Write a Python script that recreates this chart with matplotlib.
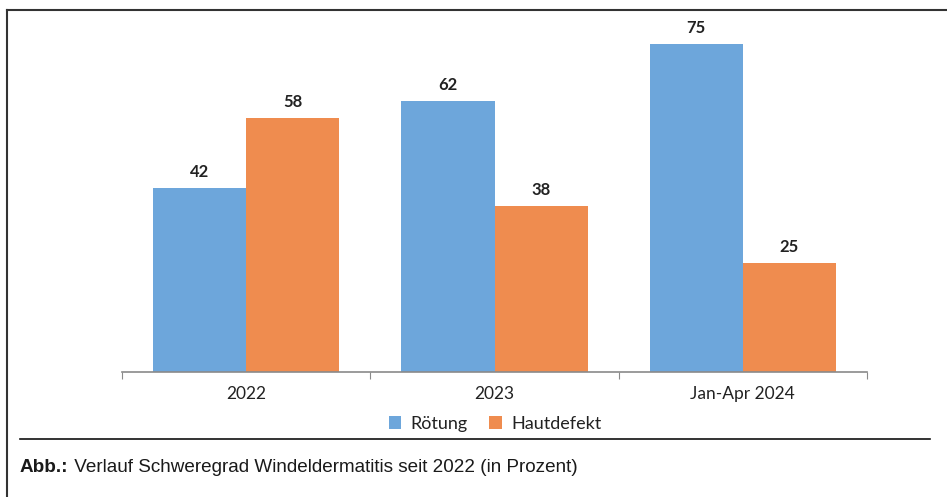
import matplotlib.pyplot as plt
from matplotlib.lines import Line2D
import numpy as np

categories = ["2022", "2023", "Jan-Apr 2024"]
roetung = [42, 62, 75]
hautdefekt = [58, 38, 25]
series_names = ["Rötung", "Hautdefekt"]
caption_bold = "Abb.:"
caption_text = " Verlauf Schweregrad Windeldermatitis seit 2022 (in Prozent)"

blue = "#6DA6DB"
orange = "#EF8C4F"
font = ["Lato", "DejaVu Sans"]
cap_font = ["Liberation Sans", "DejaVu Sans"]

fig = plt.figure(figsize=(9.47, 4.97), dpi=100)
ax = fig.add_axes([122 / 947, 125 / 497, 745 / 947, 350 / 497])

x = np.arange(len(categories))
w = 0.375
b1 = ax.bar(x - w / 2, roetung, w, color=blue, label=series_names[0])
b2 = ax.bar(x + w / 2, hautdefekt, w, color=orange, label=series_names[1])

for bars, vals in [(b1, roetung), (b2, hautdefekt)]:
    for rect, v in zip(bars, vals):
        ax.text(rect.get_x() + rect.get_width() / 2, v + 1.8, str(v),
                ha="center", va="bottom", fontsize=12, fontweight="bold",
                family=font, color="#222222")

ax.set_xlim(-0.5, 2.5)
ax.set_ylim(0, 80)
ax.set_yticks([])
ax.set_xticks([-0.5, 0.5, 1.5, 2.5])
ax.set_xticklabels([])
ax.set_xticks(x, minor=True)
ax.set_xticklabels(categories, minor=True, fontsize=12.5, family=font, color="#222222")
ax.tick_params(axis="x", which="major", length=5, color="#8a8a8a", direction="out")
ax.tick_params(axis="x", which="minor", length=0, pad=10)
for s in ["top", "right", "left"]:
    ax.spines[s].set_visible(False)
ax.spines["bottom"].set_color("#8a8a8a")
ax.spines["bottom"].set_linewidth(1.2)

leg = fig.legend(handles=[b1, b2], loc="center", bbox_to_anchor=(495 / 947, 1 - 424 / 497),
                 ncol=2, frameon=False, handlelength=0.7, handleheight=0.7,
                 handletextpad=0.5, columnspacing=1.2,
                 prop={"family": font, "size": 13})
for t in leg.get_texts():
    t.set_color("#222222")

# frame and separator
fig.add_artist(Line2D([7 / 947, 1.0], [1 - 10 / 497] * 2, color="#333333", lw=1.5))
fig.add_artist(Line2D([7 / 947] * 2, [0, 1 - 10 / 497], color="#333333", lw=1.5))
fig.add_artist(Line2D([20 / 947, 930 / 947], [1 - 439 / 497] * 2, color="#111111", lw=1.2))

cap = fig.text(20 / 947, 1 - 468 / 497, caption_bold, fontsize=13.6, fontweight="bold",
               family=cap_font, va="center", ha="left", color="#1a1a1a")
fig.canvas.draw()
bb = cap.get_window_extent()
fig.text(bb.x1 / 947, 1 - 468 / 497, caption_text, fontsize=13.6,
         family=cap_font, va="center", ha="left", color="#1a1a1a")

fig.savefig("out.png", dpi=100)
